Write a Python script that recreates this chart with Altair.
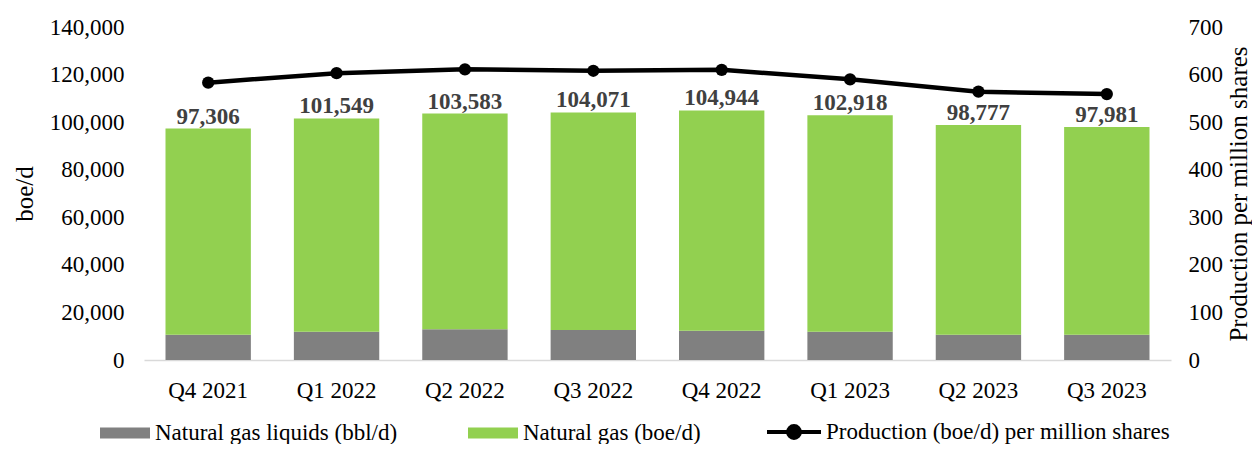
import altair as alt
import pandas as pd

quarters = ["Q4 2021", "Q1 2022", "Q2 2022", "Q3 2022", "Q4 2022", "Q1 2023", "Q2 2023", "Q3 2023"]
totals = [97306, 101549, 103583, 104071, 104944, 102918, 98777, 97981]
ngl = [10600, 11900, 12900, 12600, 12300, 11900, 10600, 10600]
per_share = [583, 603, 611, 608, 610, 590, 564, 559]

NGL_NAME = "Natural gas liquids (bbl/d)"
GAS_NAME = "Natural gas (boe/d)"
LINE_NAME = "Production (boe/d) per million shares"

rows = []
for q, t, n in zip(quarters, totals, ngl):
    rows.append({"quarter": q, "series": NGL_NAME, "value": n, "ord": 0})
    rows.append({"quarter": q, "series": GAS_NAME, "value": t - n, "ord": 1})
bars_df = pd.DataFrame(rows)
tot_df = pd.DataFrame({"quarter": quarters, "total": totals})
line_df = pd.DataFrame({"quarter": quarters, "per_share": per_share, "series": LINE_NAME})

FONT = "Liberation Serif"

x_enc = alt.X(
    "quarter:N",
    sort=quarters,
    scale=alt.Scale(paddingInner=0.335, paddingOuter=0.1675),
    axis=alt.Axis(
        title=None, labelAngle=0, labelFont=FONT, labelFontSize=23, labelColor="black",
        labelPadding=19, ticks=False, domain=True, domainColor="#D9D9D9", domainWidth=1.5,
    ),
)

left_axis = alt.Axis(
    title="boe/d", values=list(range(0, 140001, 20000)),
    labelExpr="format(datum.value, ',')",
    labelFont=FONT, labelFontSize=23, labelColor="black", labelPadding=20,
    titleFont=FONT, titleFontSize=25, titleFontWeight="normal", titleColor="black",
    titlePadding=12, ticks=False, domain=False, grid=False,
)
left_scale = alt.Scale(domain=[0, 140000], nice=False)

bars = alt.Chart(bars_df).mark_bar().encode(
    x=x_enc,
    y=alt.Y("value:Q", stack="zero", scale=left_scale, axis=left_axis),
    color=alt.Color(
        "series:N",
        scale=alt.Scale(domain=[NGL_NAME, GAS_NAME], range=["#808080", "#92D050"]),
        legend=alt.Legend(
            title=None, orient="none", direction="horizontal", legendX=-44, legendY=381,
            symbolType="M-1,-0.22H1V0.22H-1Z", symbolSize=2500, symbolStrokeWidth=0,
            labelFont=FONT, labelFontSize=23, labelColor="black", labelLimit=0,
            labelOffset=5, columnPadding=70,
        ),
    ),
    order=alt.Order("ord:Q"),
)

labels = alt.Chart(tot_df).mark_text(
    font=FONT, fontSize=23, fontWeight="bold", color="#404040", baseline="alphabetic", dy=-5
).encode(
    x=alt.X("quarter:N", sort=quarters),
    y=alt.Y("total:Q", scale=left_scale, axis=left_axis),
    text=alt.Text("total:Q", format=","),
)

right_axis = alt.Axis(
    title="Production per million shares", orient="right", values=list(range(0, 701, 100)),
    labelFont=FONT, labelFontSize=23, labelColor="black", labelPadding=17,
    titleFont=FONT, titleFontSize=25, titleFontWeight="normal", titleColor="black",
    titlePadding=4, titleAngle=270, titleBaseline="top", ticks=False, domain=False, grid=False,
)
right_scale = alt.Scale(domain=[0, 700], nice=False)

line = alt.Chart(line_df).mark_line(strokeWidth=4.5).encode(
    x=alt.X("quarter:N", sort=quarters),
    y=alt.Y("per_share:Q", scale=right_scale, axis=right_axis),
    stroke=alt.Stroke(
        "series:N",
        scale=alt.Scale(domain=[LINE_NAME], range=["black"]),
        legend=alt.Legend(
            title=None, orient="none", legendX=621, legendY=376,
            symbolType="M-1,0H1M-0.22,0A0.22,0.22,0,1,1,0.22,0A0.22,0.22,0,1,1,-0.22,0Z",
            symbolSize=2916, symbolStrokeWidth=4, symbolFillColor="black",
            labelFont=FONT, labelFontSize=23, labelColor="black", labelLimit=0, labelOffset=3,
        ),
    ),
)

points = alt.Chart(line_df).mark_point(filled=True, size=150, color="black", opacity=1).encode(
    x=alt.X("quarter:N", sort=quarters),
    y=alt.Y("per_share:Q", scale=right_scale, axis=right_axis),
)

left = alt.layer(bars, labels)
right = alt.layer(line, points)

chart = alt.layer(left, right).resolve_scale(y="independent").properties(
    width=1027,
    height=333,
    autosize=alt.AutoSizeParams(type="none"),
    padding={"left": 136, "top": 19, "right": 81, "bottom": 84},
).configure(font=FONT).configure_legend(labelFont=FONT).configure_view(stroke=None)

chart.save("out.html", embed_options={"renderer": "svg", "actions": False})
